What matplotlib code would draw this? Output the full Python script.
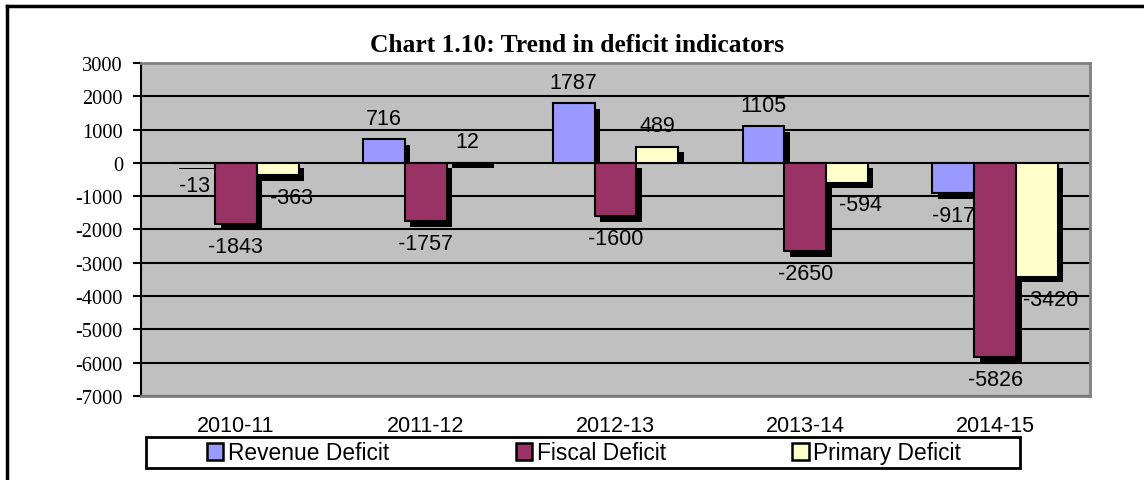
import matplotlib
matplotlib.use('Agg')
import matplotlib.pyplot as plt
from matplotlib.patches import Patch, Rectangle
from matplotlib.lines import Line2D
from matplotlib.transforms import ScaledTranslation
import numpy as np

years = ['2010-11', '2011-12', '2012-13', '2013-14', '2014-15']
revenue = [-13, 716, 1787, 1105, -917]
fiscal = [-1843, -1757, -1600, -2650, -5826]
primary = [-363, 12, 489, -594, -3420]
series_names = ['Revenue Deficit', 'Fiscal Deficit', 'Primary Deficit']
colors = ['#9999FF', '#993366', '#FFFFCC']

plt.rcParams['axes.unicode_minus'] = False
serif = ['Liberation Serif', 'DejaVu Serif']
sans = ['Liberation Sans', 'DejaVu Sans']
fs = 15.5

fig = plt.figure(figsize=(11.44, 4.81), dpi=100)
ax = fig.add_axes([141/1144, 84/481, 949/1144, 333/481])
ax.set_facecolor('#C0C0C0')
ax.set_xlim(-0.5, 4.5)
ax.set_ylim(-7000, 3000)

x = np.arange(len(years))
w = 0.22
shadow_pt = 4.0
# vertical shadow offset expressed in data units of the y scale
px = shadow_pt * fig.dpi / 72
dy = px * (10000 / (ax.get_position().height * fig.get_figheight() * fig.dpi))
shift = ax.transData + ScaledTranslation(shadow_pt / 72, 0, fig.dpi_scale_trans)

for i, (vals, col) in enumerate(zip([revenue, fiscal, primary], colors)):
    xs = x + (i - 1) * w
    vals = np.array(vals)
    # shadow: shifted right, pushed down; positive bars keep their base at zero
    sb = np.where(vals >= 0, 0, -dy)
    sh = np.where(vals >= 0, vals - dy, vals)
    ax.bar(xs, sh, w, bottom=sb, color='black', linewidth=0,
           zorder=3 + 2 * i, transform=shift)
    ax.bar(xs, vals, w, color=col, edgecolor='black', linewidth=1.5,
           zorder=4 + 2 * i)
    for xi, v in zip(xs, vals):
        dx = 0
        if i == 2 and v < 0:
            dx = 10
        oy = 15 if v >= 0 else -16
        ax.annotate(f'{v}', (xi, v), xytext=(dx, oy), textcoords='offset points',
                    ha='center', va='center', fontsize=fs, family=sans,
                    zorder=10)

ax.set_yticks(np.arange(-7000, 3001, 1000))
ax.set_xticks(x)
ax.set_xticklabels(years, family=sans, fontsize=fs)
for lab in ax.get_yticklabels():
    lab.set_family(serif)
    lab.set_fontsize(14.7)
ax.tick_params(axis='x', length=0, pad=14)
ax.tick_params(axis='y', length=6, width=1.5, pad=7, direction='out')
ax.grid(True, axis='y', color='black', linewidth=1.5, zorder=1)
ax.set_axisbelow(True)
for s in ['top', 'right', 'bottom']:
    ax.spines[s].set_color('#808080')
    ax.spines[s].set_linewidth(2)
ax.spines['left'].set_color('black')
ax.spines['left'].set_linewidth(1.5)

fig.text(577/1144, 1 - 46/481, 'Chart 1.10: Trend in deficit indicators',
         ha='center', va='center', fontsize=18.4, fontweight='bold', family=serif)

# legend box
fig.patches.append(Rectangle((146/1144, 12/481), 874/1144, 31/481,
                             transform=fig.transFigure, facecolor='white',
                             edgecolor='black', linewidth=2))
handles = [Patch(facecolor=c, edgecolor='black', linewidth=1.8) for c in colors]
fig.legend(handles, series_names, loc='center', bbox_to_anchor=(584/1144, 27/481),
           ncol=3, frameon=False, prop={'family': sans, 'size': 16.4},
           handlelength=0.72, handleheight=0.72, handletextpad=0.2,
           columnspacing=5.55, borderpad=0, borderaxespad=0)

# outer border (top and left visible)
fig.add_artist(Line2D([7/1144, 1], [1 - 7/481, 1 - 7/481], color='black',
                      linewidth=2.5, transform=fig.transFigure))
fig.add_artist(Line2D([7/1144, 7/1144], [0, 1 - 7/481], color='black',
                      linewidth=2.5, transform=fig.transFigure))

fig.savefig('out.png', dpi=100)
